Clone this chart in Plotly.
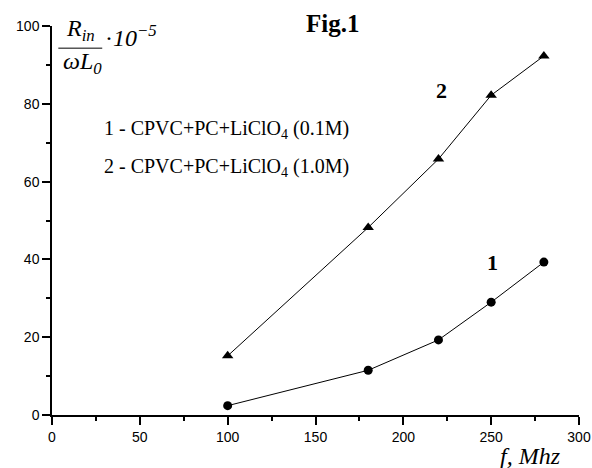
import plotly.graph_objects as go

freq = [100, 180, 220, 250, 280]
series1 = [2.4, 11.5, 19.3, 29.0, 39.3]
series2 = [15.2, 48.2, 65.8, 82.2, 92.3]
x_ticks = [0, 50, 100, 150, 200, 250, 300]
y_ticks = [0, 20, 40, 60, 80, 100]

SERIF = "Liberation Serif, Times New Roman, serif"
SANS = "Liberation Sans, Arial, sans-serif"

fig = go.Figure()
fig.add_trace(go.Scatter(x=freq, y=series1, mode="lines+markers",
                         line=dict(color="black", width=1),
                         marker=dict(symbol="circle", size=9, color="black"),
                         cliponaxis=False, showlegend=False, hoverinfo="skip"))
fig.add_trace(go.Scatter(x=freq, y=series2, mode="lines+markers",
                         line=dict(color="black", width=1),
                         marker=dict(symbol="triangle-up", size=10, color="black"),
                         cliponaxis=False, showlegend=False, hoverinfo="skip"))

ann = []
def A(x, y, text, size, xanchor="center", ref="data", yshift=0):
    ann.append(dict(x=x, y=y, xref="x" if ref == "data" else "paper",
                    yref="y" if ref == "data" else "paper", text=text, showarrow=False,
                    xanchor=xanchor, yanchor="middle", yshift=yshift,
                    font=dict(family=SERIF, size=size, color="black")))

A(0.5315, 1.0, "<b>Fig.1</b>", 25, ref="paper", yshift=3)
A(221.8, 83.3, "<b>2</b>", 22)
A(251.0, 39.3, "<b>1</b>", 22)
A(28.4, 73.4, "1 - CPVC+PC+LiClO<sub>4</sub> (0.1M)", 20, xanchor="left")
A(28.4, 63.7, "2 - CPVC+PC+LiClO<sub>4</sub> (1.0M)", 20, xanchor="left")
# y-axis label as fraction
A(7.0, 99.0, "<i>R<sub>in</sub></i>", 24, xanchor="left")
A(5.2, 90.4, "<i>ωL<sub>0</sub></i>", 24, xanchor="left")
A(29.3, 97.4, "·<i>10<sup>−5</sup></i>", 24, xanchor="left")
# x-axis label
A(0.9696, -0.1054, "<i>f, Mhz</i>", 24, xanchor="right", ref="paper")

fig.update_layout(
    width=592, height=468, autosize=False,
    margin=dict(l=52, r=13, t=26, b=53),
    paper_bgcolor="white", plot_bgcolor="white",
    annotations=ann,
    shapes=[dict(type="line", xref="x", yref="y", x0=3.6, x1=28.6, y0=94.3, y1=94.3,
                 line=dict(color="black", width=1))],
    xaxis=dict(range=[0, 300], tickvals=x_ticks, ticks="outside", ticklen=8, tickwidth=1.5,
               tickcolor="black", showline=True, linecolor="black", linewidth=1.5,
               showgrid=False, zeroline=False, automargin=False,
               tickfont=dict(family=SANS, size=14, color="black"),
               minor=dict(tickvals=[25, 75, 125, 175, 225, 275], ticks="outside", ticklen=4,
                          tickwidth=1.5, tickcolor="black")),
    yaxis=dict(range=[0, 100], tickvals=y_ticks, ticks="outside", ticklen=8, tickwidth=1.5,
               tickcolor="black", showline=True, linecolor="black", linewidth=1.5,
               showgrid=False, zeroline=False, automargin=False,
               tickfont=dict(family=SANS, size=14, color="black"),
               minor=dict(tickvals=[10, 30, 50, 70, 90], ticks="outside", ticklen=4,
                          tickwidth=1.5, tickcolor="black")),
)

fig.write_html("out.html", default_width="592px", default_height="468px",
               config={"displayModeBar": False},
               post_script="document.body.style.margin='0px';document.body.style.overflow='hidden';")
